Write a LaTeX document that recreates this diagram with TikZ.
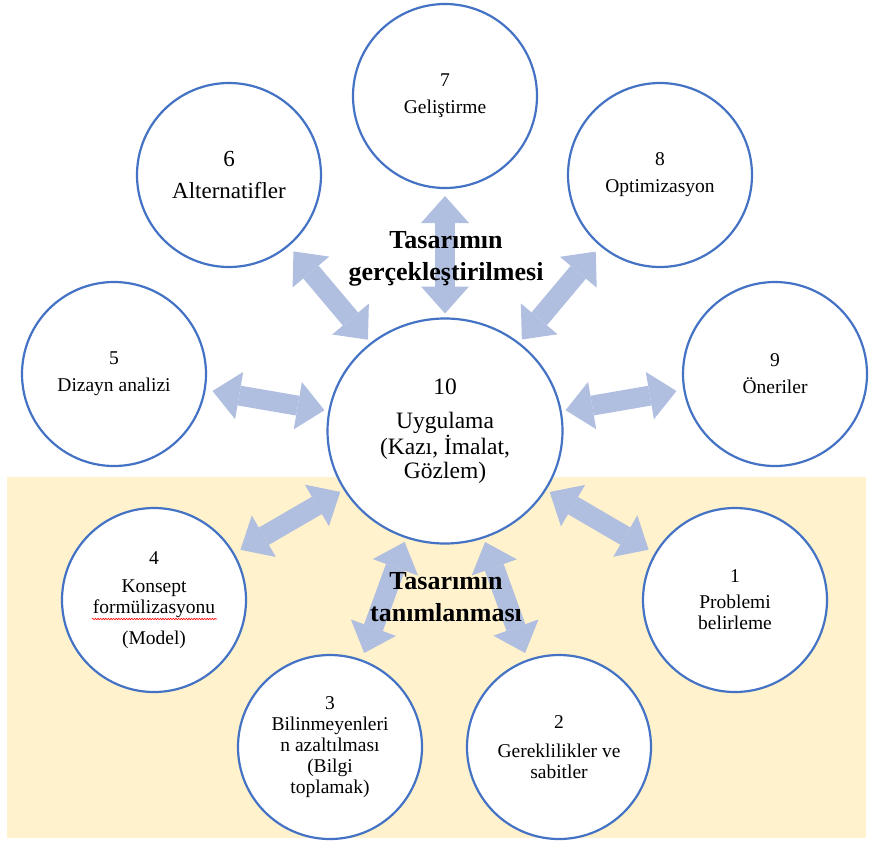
\documentclass[tikz,border=0pt]{standalone}
\usepackage{fontspec}
\setmainfont{Liberation Serif}
\usetikzlibrary{shapes.geometric, arrows.meta, decorations.pathmorphing}
\definecolor{ringblue}{RGB}{68,114,196}
\definecolor{flowblue}{RGB}{176,190,224}
\definecolor{phaseyellow}{RGB}{255,242,204}
\tikzset{
	stage/.style = {circle, draw=ringblue, line width=2.2pt, fill=white, minimum size=184pt, inner sep=0pt, outer sep=0pt, align=center, font=\fontsize{19.5}{21}\selectfont},
	core/.style = {stage, ellipse, minimum width=235pt, minimum height=225pt, font=\fontsize{23.5}{24}\selectfont},
	flowtip/.tip = {Triangle[length=27pt, width=48pt, line width=0pt]},
	flow/.style = {draw=flowblue, line width=20pt, flowtip-flowtip, shorten <=5pt, shorten >=8pt},
	phase/.style = {align=center, font=\fontsize{26}{32}\bfseries\selectfont}
}

\begin{document}
\begin{tikzpicture}[x=1pt, y=-1pt]
	\useasboundingbox (0,0) rectangle (869,841);
	% ====== Background ========
	\fill[phaseyellow] (7,477) rectangle (866,838);
	% ====== Stages ========
	\node[core] (c10) at (445,431) {10\\[10pt]Uygulama\\(Kazı, İmalat,\\Gözlem)};
	\node[stage] (c1) at (735,600) {1\\[5pt]Problemi\\belirleme};
	\node[stage] (c2) at (559,747) {2\\[8pt]Gereklilikler ve\\sabitler};
	\node[stage] (c3) at (330,747) {3\\Bilinmeyenleri\\n azaltılması\\(Bilgi\\toplamak)};
	\node[stage] (c4) at (154,600) {4\\[7pt]Konsept\\formülizasyonu\\[10pt](Model)};
	\node[stage] (c5) at (114,374) {5\\[6pt]Dizayn analizi};
	\node[stage, font=\fontsize{23}{25}\selectfont] (c6) at (229,175) {6\\[7pt]Alternatifler};
	\node[stage] (c7) at (445,96) {7\\[6pt]Geliştirme};
	\node[stage] (c8) at (660,175) {8\\[6pt]Optimizasyon};
	\node[stage] (c9) at (775,374) {9\\[6pt]Öneriler};
	% spelling mark under the second line of 4
	\draw[red, line width=0.6pt, decorate, decoration={snake, amplitude=0.7pt, segment length=2.6pt}]
		([shift={(-62,19)}]c4.center) -- ([shift={(63,19)}]c4.center);
	% ====== Links ========
	\foreach \i in {1,...,9} {\draw[flow] (c10) -- (c\i);}
	% ====== Phases ========
	\node[phase] (top) at (446,259) {Tasarımın\\gerçekleştirilmesi};
	\node[phase] (bottom) at (446,597) {Tasarımın\\tanımlanması};
\end{tikzpicture}
\end{document}
